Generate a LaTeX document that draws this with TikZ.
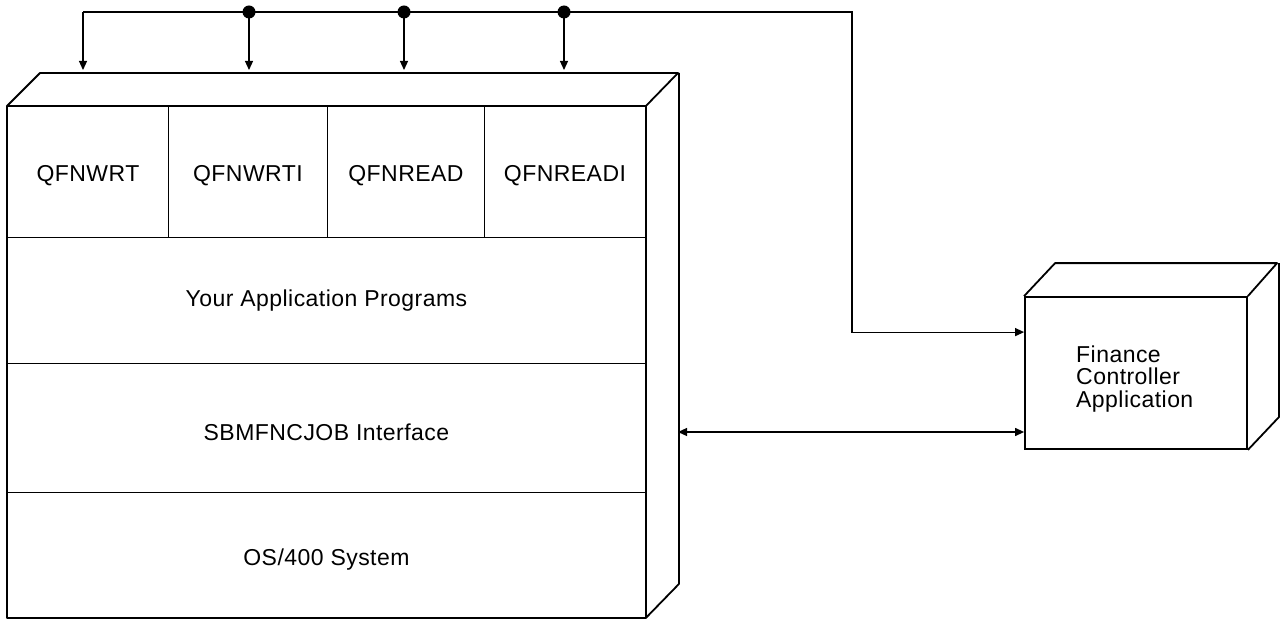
\documentclass[tikz,border=0pt]{standalone}
\usepackage{fontspec}
\setmainfont{Liberation Sans}[LetterSpace=2]
\usetikzlibrary{arrows.meta}
\newcommand{\lowered}[2]{\raisebox{-#1}[\height][\depth]{#2}}
\begin{document}
\begin{tikzpicture}[x=1pt,y=-1pt,
  outline/.style={draw,line width=1.8pt,line join=round},
  cell/.style={draw,line width=0.9pt,inner sep=0pt,anchor=north west,
    font=\fontsize{23}{27}\selectfont},
  conn/.style={line width=1.2pt},
  arr/.style={conn,-{Triangle[length=9pt,width=8pt]}},
  darr/.style={conn,{Triangle[length=9pt,width=8pt]}-{Triangle[length=9pt,width=8pt]}},
  dot/.style={circle,fill,inner sep=0pt,minimum size=13pt}]
\useasboundingbox (0,0) rectangle (1284,620);
\fill[white] (0,0) rectangle (1284,620);

% ---- main box cells ----
\node[cell,minimum width=161pt,minimum height=131pt] (wrt)   at (7,106)   {\lowered{4pt}{QFNWRT}};
\node[cell,minimum width=159pt,minimum height=131pt] (wrti)  at (168,106) {\lowered{4pt}{QFNWRTI}};
\node[cell,minimum width=157pt,minimum height=131pt] (read)  at (327,106) {\lowered{4pt}{QFNREAD}};
\node[cell,minimum width=161pt,minimum height=131pt] (readi) at (484,106) {\lowered{4pt}{QFNREADI}};
\node[cell,minimum width=638pt,minimum height=126pt] (apps)  at (7,237)   {Your Application Programs};
\node[cell,minimum width=638pt,minimum height=129pt] (sbm)   at (7,363)   {\lowered{4pt}{SBMFNCJOB Interface}};
\node[cell,minimum width=638pt,minimum height=125pt] (os)    at (7,492)   {\lowered{5pt}{OS/400 System}};

% ---- main box outline (front, top, side) ----
\draw[outline] (wrt.north west) rectangle (os.south east);
\draw[outline] (wrt.north west) -- ++(33,-33) -- ++(638,0) -- (readi.north east);
\draw[outline] ([shift={(33pt,33pt)}]readi.north east) -- ++(0,511) -- (os.south east);

% ---- finance controller box ----
\node[draw,line width=1.8pt,minimum width=222pt,minimum height=152pt,inner sep=0pt] (fin) at (1136,373) {};
\draw[outline] (fin.north west) -- ++(31,-33) -- ++(222,0) -- (fin.north east);
\draw[outline] ([shift={(31pt,33pt)}]fin.north east) -- ++(0,154) -- (fin.south east);
\node[anchor=west,inner sep=0pt,align=left,font=\fontsize{23}{22.8}\selectfont] (fintext) at (1076,379)
  {Finance\\Controller\\Application};

% ---- connectors ----
\coordinate (c0) at (83,12);
\coordinate (c1) at (852,12);
\coordinate (tip) at (0,70);
\node[dot] (d1) at (249,12) {};
\node[dot] (d2) at (404,12) {};
\node[dot] (d3) at (564,12) {};
\draw[conn] (c0) -- (d1.center) -- (d2.center) -- (d3.center);
\draw[arr] (c0) -- (c0 |- tip);
\draw[arr] (d1.center) -- (d1 |- tip);
\draw[arr] (d2.center) -- (d2 |- tip);
\draw[arr] (d3.center) -- (d3 |- tip);
\draw[arr] (d3.center) -- (c1) |- ([yshift=-36pt]fin.north west);
\coordinate (sidept) at (678,432);
\draw[darr] (sidept) -- (sidept -| fin.west);
\end{tikzpicture}
\end{document}
